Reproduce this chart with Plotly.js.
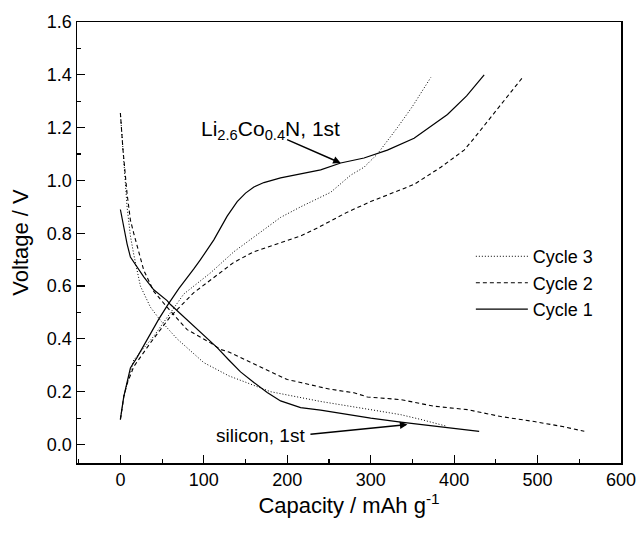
<!DOCTYPE html>
<html>
<head>
<meta charset="utf-8">
<script src="https://cdn.plot.ly/plotly-3.0.1.min.js"></script>
<style>html,body{margin:0;padding:0;background:#fff;}#chart{width:641px;height:533px;}</style>
</head>
<body>
<div id="chart"></div>
<script>
// Cycle 1 (solid)
var c1DisCap = [0, 4, 8, 12, 16, 28, 40, 56, 60, 88, 116, 130, 144, 160, 176, 192, 216, 240, 272, 300, 336, 360, 400, 430];
var c1DisV   = [0.89, 0.82, 0.76, 0.71, 0.69, 0.635, 0.586, 0.545, 0.53, 0.45, 0.367, 0.32, 0.275, 0.235, 0.197, 0.165, 0.14, 0.13, 0.113, 0.10, 0.085, 0.076, 0.06, 0.05];
var c1ChCap  = [0, 4, 8, 12, 20, 28, 36, 46, 56, 70, 88, 96, 112, 128, 140, 150, 160, 172, 192, 216, 240, 264, 292, 320, 352, 392, 415, 436];
var c1ChV    = [0.095, 0.18, 0.235, 0.29, 0.33, 0.375, 0.42, 0.475, 0.525, 0.59, 0.665, 0.70, 0.775, 0.865, 0.92, 0.952, 0.975, 0.992, 1.01, 1.025, 1.04, 1.066, 1.085, 1.115, 1.16, 1.25, 1.32, 1.40];
// Cycle 2 (dashed)
var c2DisCap = [0, 3, 8, 12, 16, 28, 40, 56, 80, 108, 120, 130, 150, 200, 216, 250, 280, 296, 336, 376, 416, 456, 496, 530, 556];
var c2DisV   = [1.255, 1.12, 0.95, 0.85, 0.80, 0.66, 0.58, 0.52, 0.435, 0.385, 0.36, 0.35, 0.32, 0.246, 0.235, 0.21, 0.196, 0.18, 0.17, 0.145, 0.132, 0.106, 0.087, 0.068, 0.05];
var c2ChCap  = [0, 4, 8, 16, 36, 60, 88, 124, 136, 160, 192, 216, 236, 272, 300, 336, 352, 384, 412, 424, 452, 482];
var c2ChV    = [0.095, 0.18, 0.23, 0.295, 0.385, 0.485, 0.575, 0.66, 0.69, 0.73, 0.764, 0.79, 0.82, 0.88, 0.92, 0.965, 0.985, 1.05, 1.115, 1.16, 1.27, 1.39];
// Cycle 3 (dotted)
var c3DisCap = [0, 4, 8, 12, 16, 24, 36, 48, 68, 100, 130, 180, 216, 240, 300, 336, 360, 376, 390];
var c3DisV   = [1.255, 1.06, 0.90, 0.79, 0.72, 0.60, 0.52, 0.47, 0.40, 0.31, 0.26, 0.20, 0.178, 0.163, 0.132, 0.113, 0.095, 0.083, 0.07];
var c3ChCap  = [0, 4, 8, 16, 40, 68, 76, 108, 136, 192, 216, 252, 276, 292, 308, 332, 350, 372];
var c3ChV    = [0.095, 0.18, 0.23, 0.32, 0.41, 0.537, 0.57, 0.65, 0.73, 0.86, 0.90, 0.955, 1.02, 1.05, 1.10, 1.20, 1.28, 1.39];

var seriesNames = ['Cycle 3', 'Cycle 2', 'Cycle 1'];
var xTicks = [0, 100, 200, 300, 400, 500, 600];
var yTicks = [0.0, 0.2, 0.4, 0.6, 0.8, 1.0, 1.2, 1.4, 1.6];

function joinCurves(a, b) { return a.concat([null]).concat(b); }

var font = '"Liberation Sans", Arial, Helvetica, sans-serif';
var traces = [
  {x: joinCurves(c3DisCap, c3ChCap), y: joinCurves(c3DisV, c3ChV), name: seriesNames[0],
   mode: 'lines', line: {color: '#000', width: 1, dash: '1px,2px'}, connectgaps: false},
  {x: joinCurves(c2DisCap, c2ChCap), y: joinCurves(c2DisV, c2ChV), name: seriesNames[1],
   mode: 'lines', line: {color: '#000', width: 1.1, dash: '4px,3px'}, connectgaps: false},
  {x: joinCurves(c1DisCap, c1ChCap), y: joinCurves(c1DisV, c1ChV), name: seriesNames[2],
   mode: 'lines', line: {color: '#000', width: 1.2}, connectgaps: false}
];

var layout = {
  width: 641, height: 533,
  margin: {l: 77, r: 20, t: 22, b: 70},
  paper_bgcolor: '#fff', plot_bgcolor: '#fff',
  font: {family: font, color: '#000', size: 18},
  showlegend: true,
  legend: {x: 0.724, y: 0.51, xanchor: 'left', yanchor: 'top', bgcolor: 'rgba(0,0,0,0)',
           itemwidth: 52, font: {size: 18, family: font}, tracegroupgap: 0},
  xaxis: {range: [-52, 600], tickvals: xTicks, ticktext: xTicks.map(String),
          ticks: 'inside', ticklen: 8, tickwidth: 1.2, tickcolor: '#000',
          minor: {dtick: 50, tick0: 0, ticks: 'inside', ticklen: 4, tickwidth: 1.2, tickcolor: '#000'},
          showline: true, linecolor: '#000', linewidth: 1.5, mirror: true,
          showgrid: false, zeroline: false, tickfont: {size: 18},
          title: {text: 'Capacity / mAh g<sup>-1</sup>', font: {size: 22}, standoff: 0}},
  yaxis: {range: [-0.07, 1.6], tickvals: yTicks, ticktext: yTicks.map(function(v){return v.toFixed(1);}),
          ticks: 'inside', ticklen: 8, tickwidth: 1.2, tickcolor: '#000',
          minor: {dtick: 0.1, tick0: 0, ticks: 'inside', ticklen: 4, tickwidth: 1.2, tickcolor: '#000'},
          showline: true, linecolor: '#000', linewidth: 1.5, mirror: true,
          showgrid: false, zeroline: false, tickfont: {size: 18},
          title: {text: 'Voltage / V', font: {size: 22}, standoff: 12}},
  annotations: [
    {x: 180, y: 1.19, xref: 'x', yref: 'y', text: 'Li<sub>2.6</sub>Co<sub>0.4</sub>N, 1st',
     showarrow: false, font: {size: 21}},
    {x: 264, y: 1.066, ax: 198, ay: 1.157, axref: 'x', ayref: 'y', xref: 'x', yref: 'y', text: '',
     showarrow: true, arrowhead: 2, arrowsize: 1, arrowwidth: 1.5, arrowcolor: '#000'},
    {x: 168, y: 0.034, xref: 'x', yref: 'y', text: 'silicon, 1st', showarrow: false, font: {size: 19}},
    {x: 344, y: 0.076, ax: 226, ay: 0.038, axref: 'x', ayref: 'y', xref: 'x', yref: 'y', text: '',
     showarrow: true, arrowhead: 2, arrowsize: 1, arrowwidth: 1.5, arrowcolor: '#000'}
  ]
};

Plotly.newPlot('chart', traces, layout, {staticPlot: true, displayModeBar: false});
</script>
</body>
</html>
